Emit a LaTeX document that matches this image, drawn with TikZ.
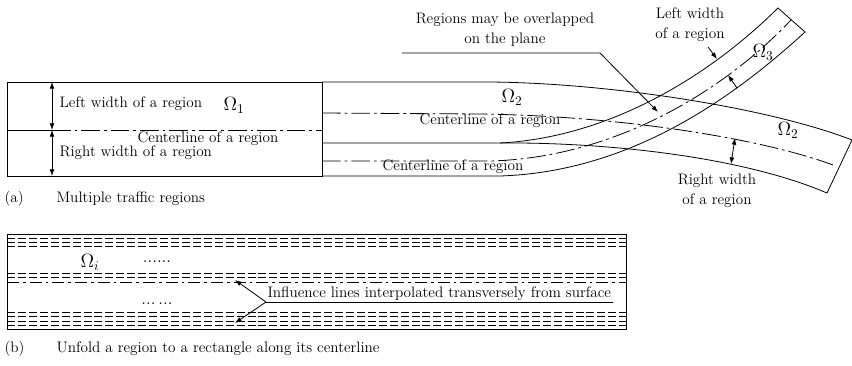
\documentclass[tikz,border=0pt]{standalone}
\usepackage{tikz}
\usetikzlibrary{arrows.meta}
\tikzset{
  edge/.style={line width=0.6pt},
  centre/.style={line width=0.6pt,dash pattern=on 14pt off 3pt on 2pt off 3pt},
  lane/.style={line width=0.5pt,dash pattern=on 6pt off 2.2pt},
  lbl/.style={font=\fontsize{11.4}{15}\selectfont,inner sep=1pt},
  arrow/.style={-{Latex[length=5pt,width=3.6pt]},line width=0.6pt},
  twoway/.style={{Latex[length=5pt,width=3.6pt]}-{Latex[length=5pt,width=3.6pt]},line width=0.6pt}
}
\begin{document}
\begin{tikzpicture}[x=0.75pt,y=-0.75pt,
  omega/.style={font=\fontsize{14.5}{15}\selectfont,inner sep=0pt},
  caption/.style={lbl,anchor=west},
  dotrow/.style={font=\fontsize{13}{14}\selectfont,inner sep=0pt}
]
  \useasboundingbox (0,0) rectangle (852,365);

  \draw[edge] (7,82) rectangle (322,176);
  \draw[edge] (7,130) -- (52,130);
  \draw[centre] (52,130) -- (322,130);
  \draw[edge] (322,82) -- (490,82) .. controls (610,83) and (770,108) .. (852,140)
    -- (827,193) .. controls (745,158) and (620,144) .. (520,143) -- (322,143);
  \draw[centre] (322,113) -- (480,114) .. controls (620,116) and (760,138) .. (833,165);
  \draw[edge] (500,143) .. controls (600,138) and (700,85) .. (778,8)
    -- (805,32) .. controls (720,110) and (620,172) .. (500,176) -- (322,176);
  \draw[centre] (322,161) -- (490,161) .. controls (610,158) and (720,95) .. (791,20);

  \coordinate (ltop) at (52,82);
  \coordinate (lmid) at (52,130);
  \coordinate (lbot) at (52,176);
  \draw[twoway] (ltop) -- (lmid);
  \draw[twoway] (lmid) -- (lbot);
  \node[lbl,anchor=west] (leftw) at (58,104) {Left width of a region};
  \node[omega] (omega1) at (234,105) {$\Omega_1$};
  \node[lbl] (cline1) at (208,139) {Centerline of a region};
  \node[lbl,anchor=west] (rightw) at (58,153) {Right width of a region};

  \node[omega] (omega2) at (512,97) {$\Omega_2$};
  \node[lbl] (cline2) at (490,121) {Centerline of a region};
  \node[lbl] (cline3) at (453,167) {Centerline of a region};
  \node[omega] (omega3) at (763,52) {$\Omega_3$};
  \node[omega] (omega2r) at (788,130) {$\Omega_2$};

  \node[lbl,align=center] (overlap) at (505,30) {Regions may be overlapped\\on the plane};
  \coordinate (ovl) at (402,53);
  \coordinate (ovr) at (600,53);
  \coordinate (ovtip) at (658,112);
  \draw[arrow] (ovl) -- (ovr) -- (ovtip);

  \node[lbl,align=center] (leftw3) at (690,25) {Left width\\of a region};
  \coordinate (lw3from) at (708,47);
  \coordinate (lw3to) at (717,59);
  \draw[arrow] (lw3from) -- (lw3to);
  \coordinate (rw3from) at (737,88);
  \coordinate (rw3to) at (728,75);
  \draw[arrow] (rw3from) -- (rw3to);

  \node[lbl,align=center] (rightw2) at (717,191) {Right width\\of a region};
  \coordinate (rw2top) at (735,138);
  \coordinate (rw2bot) at (731,164);
  \draw[twoway] (rw2top) -- (rw2bot);

  \node[caption] (capa) at (3,199) {(a)};
  \node[caption] (capatext) at (55,199) {Multiple traffic regions};

  \draw[edge] (7,234) rectangle (626,329);
  \foreach \y in {238,242,246,273,277,312,316,321,325}
    \draw[lane] (7,\y) -- (626,\y);
  \draw[centre,dash pattern=on 9pt off 3pt on 2pt off 3pt] (7,282) -- (626,282);
  \node[omega] (omegai) at (90,262) {$\Omega_i$};
  \node[dotrow] (dotsup) at (157,262) {......};
  \node[dotrow] (dotsdown) at (157,304) {...\,...};

  \node[lbl,anchor=south west,inner sep=1pt] (infl) at (266,302)
    {Influence lines interpolated transversely from surface};
  \coordinate (inup) at (235,280);
  \coordinate (indown) at (235,323);
  \draw[edge] (infl.south west) -- (infl.south east);
  \draw[arrow] (infl.south west) -- (inup);
  \draw[arrow] (infl.south west) -- (indown);

  \node[caption] (capb) at (3,349) {(b)};
  \node[caption] (capbtext) at (55,349) {Unfold a region to a rectangle along its centerline};
\end{tikzpicture}
\end{document}
